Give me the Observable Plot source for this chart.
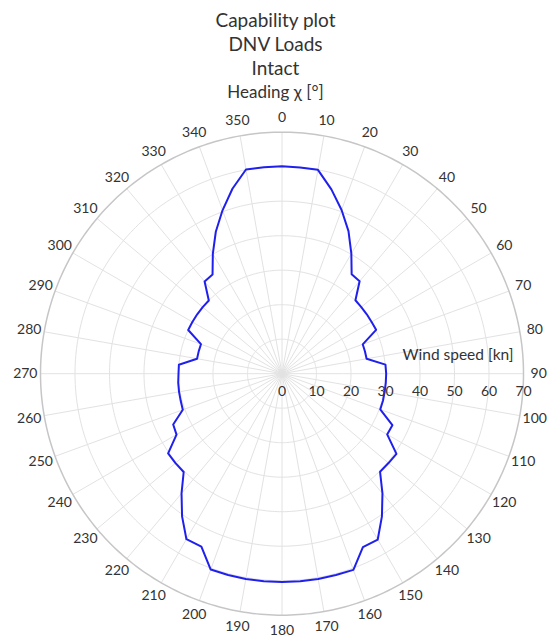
<!DOCTYPE html>
<html><head><meta charset="utf-8">
<script src="https://cdn.jsdelivr.net/npm/d3@7"></script>
<script src="https://cdn.jsdelivr.net/npm/@observablehq/plot@0.6"></script>
<style>
body{margin:0;background:#fff;font-family:Lato,"Open Sans",sans-serif;color:#333}
#titles{padding-top:8px;text-align:center;width:551px}
#titles div{height:24px;line-height:24px;white-space:nowrap}
.t{font-size:19px}
.h{font-size:17px}
</style></head><body>
<div id="titles"><div class="t">Capability plot</div><div class="t">DNV Loads</div><div class="t">Intact</div><div class="h">Heading χ [°]</div></div>
<div id="chart"></div>
<script>
// Heading (deg) and capability wind speed (kn)
const headings = [0,5,10,15,20,25,30,35,40,45,50,55,60,65,70,75,80,85,90,95,100,105,110,115,120,125,130,135,140,145,150,155,160,165,170,175,180,185,190,195,200,205,210,215,220,225,230,235,240,245,250,255,260,265,270,275,280,285,290,295,300,305,310,315,320,325,330,335,340,345,350,355];
const speeds = [60.1,60.0,60.0,55.3,50.5,45.6,40.2,35.2,35.0,30.1,30.0,30.0,30.0,30.1,24.9,24.9,24.9,30.1,30.2,30.2,30.2,30.3,30.3,35.3,35.2,40.5,40.3,40.2,45.3,50.5,55.5,55.5,60.5,60.4,60.4,60.4,60.4,60.4,60.4,60.4,60.4,55.3,55.4,50.5,45.3,40.3,40.3,40.3,35.3,34.8,30.6,30.4,30.3,30.2,30.0,30.0,25.0,25.0,25.0,30.0,30.0,30.0,30.0,30.0,34.9,35.1,40.1,45.4,50.4,55.5,60.1,60.1];
const headingTicks = [0,10,20,30,40,50,60,70,80,90,100,110,120,130,140,150,160,170,180,190,200,210,220,230,240,250,260,270,280,290,300,310,320,330,340,350];
const speedTicks = [0,10,20,30,40,50,60,70];
const speedMax = 70;
const axisTitle = "Wind speed [kn]";

const data = headings.map((h, i) => ({heading: h, speed: speeds[i]}));
const lon = h => 180 - h;      // heading 0 at top, clockwise
const lat = s => 90 - s;       // radial distance from the pole
const ring = s => d3.geoCircle().center([0, 90]).radius(s).precision(1)();

const chart = Plot.plot({
  width: 551, height: 536,
  marginLeft: 40, marginRight: 28, marginTop: 27.7, marginBottom: 25.3,
  projection: {type: "azimuthal-equidistant", rotate: [0, -90], domain: ring(speedMax), clip: false},
  style: {fontFamily: "Lato, 'Open Sans', sans-serif", fontSize: "14px", color: "#333", background: "white"},
  marks: [
    Plot.geo(speedTicks.filter(s => s > 0 && s < speedMax), {geometry: s => ring(s), stroke: "#e2e2e2", strokeWidth: 1, strokeOpacity: 1}),
    Plot.link(headingTicks, {x1: d => lon(d), y1: 90, x2: d => lon(d), y2: lat(speedMax), stroke: "#e2e2e2", strokeWidth: 1, strokeOpacity: 1}),
    Plot.geo([speedMax], {geometry: s => ring(s), stroke: "#c6c6c6", strokeWidth: 1.5, strokeOpacity: 1}),
    Plot.line(data, {x: d => lon(d.heading), y: d => lat(d.speed), curve: "linear-closed", stroke: "#2020ee", strokeWidth: 2}),
    Plot.text(headingTicks, {x: d => lon(d), y: lat(74.4), text: d => String(d), fill: "#333"}),
    Plot.text(speedTicks, {x: lon(90), y: d => lat(d), dy: 18, text: d => String(d), fill: "#333"}),
    Plot.text([axisTitle], {x: lon(90), y: lat(67.1), dy: -19, textAnchor: "end", text: d => d, fontSize: 15.5, fill: "#333"})
  ]
});
document.getElementById("chart").appendChild(chart);
</script>
</body></html>
